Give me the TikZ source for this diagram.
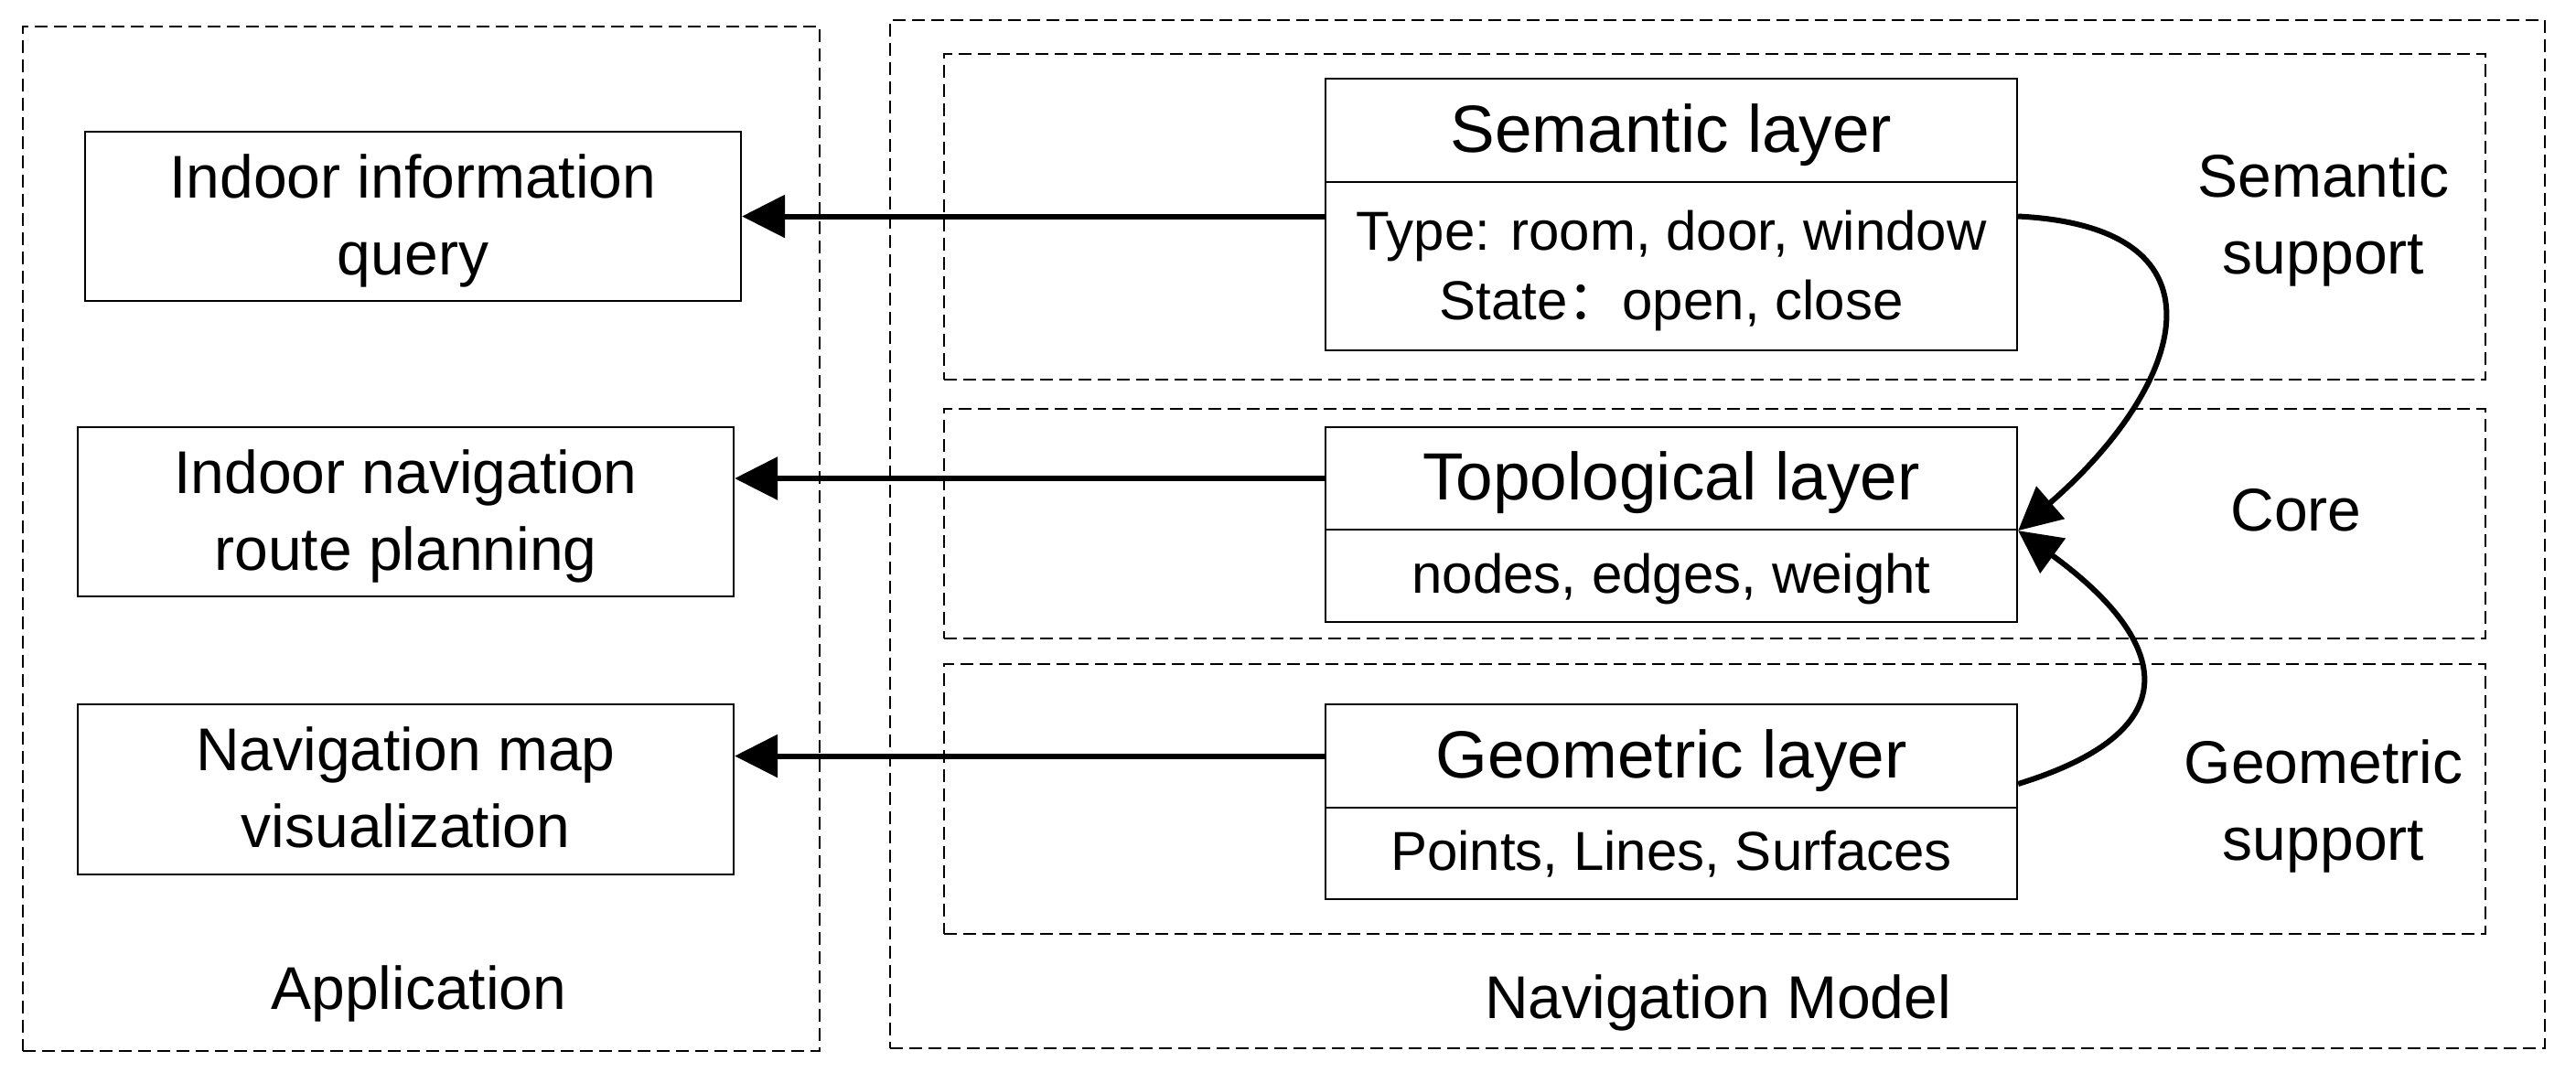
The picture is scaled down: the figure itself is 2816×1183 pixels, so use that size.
\documentclass[tikz,border=0pt]{standalone}
\usepackage{fontspec}
\setmainfont{Liberation Sans}
\newfontfamily\cjk{Noto Sans CJK SC}
\usetikzlibrary{arrows.meta,calc}
\newcommand\dn[2][1.2pt]{\raisebox{-#1}[\height][\depth]{\begin{tabular}{@{}c@{}}#2\end{tabular}}}
\begin{document}
\begin{tikzpicture}[x=0.25pt,y=-0.25pt,
  frame/.style={draw, dash pattern=on 3.5pt off 1.75pt, line width=0.5pt, inner sep=0pt},
  box/.style={draw, line width=0.55pt, inner sep=0pt, align=center},
  big/.style={font=\fontsize{16.5}{21}\selectfont, align=center},
  ttl/.style={font=\fontsize{18.25}{22}\selectfont},
  small/.style={font=\fontsize{15}{19}\selectfont},
  arr/.style={line width=1.5pt, -{Triangle[length=11.75pt,width=11.5pt]}}]
\useasboundingbox (0,0) rectangle (2816,1183);
% frames
\node[frame, minimum width=217.75pt, minimum height=280pt] (appF) at (460.5,589) {};
\node[frame, minimum width=452.25pt, minimum height=281pt] (navF) at (1877.5,584) {};
\node[frame, minimum width=421.25pt, minimum height=89pt] (semR) at (1874.5,237) {};
\node[frame, minimum width=421.25pt, minimum height=62.75pt] (coreR) at (1874.5,572.5) {};
\node[frame, minimum width=421.25pt, minimum height=73.75pt] (geoR) at (1874.5,873.5) {};
% application boxes
\node[box, big, minimum width=179.25pt, minimum height=46.25pt] (app1) at (451.5,236.5) {\dn{Indoor information\\query}};
\node[box, big, minimum width=179.25pt, minimum height=46.25pt] (app2) at (443.5,559.5) {\dn{Indoor navigation\\route planning}};
\node[box, big, minimum width=179.25pt, minimum height=46.5pt] (app3) at (443.5,863) {\dn{Navigation map\\visualization}};
% layer boxes
\node[box, ttl, minimum width=189pt, minimum height=28.25pt] (semT) at (1827,142.5) {\dn[1.6pt]{Semantic layer}};
\node[box, small, minimum width=189pt, minimum height=46pt] (semD) at (1827,291) {\dn{Type: room, door, window\\State{\cjk ：}open, close}};
\node[box, ttl, minimum width=189pt, minimum height=28pt] (topT) at (1827,523) {\dn[1.5pt]{Topological layer}};
\node[box, small, minimum width=189pt, minimum height=25.25pt] (topD) at (1827,629.5) {\dn[1pt]{nodes, edges, weight}};
\node[box, ttl, minimum width=189pt, minimum height=28.25pt] (geoT) at (1827,826.5) {\dn[1.5pt]{Geometric layer}};
\node[box, small, minimum width=189pt, minimum height=25pt] (geoD) at (1827,933) {\dn[0.8pt]{Points, Lines, Surfaces}};
% labels
\node[big] (lblSem) at (2540,236) {\dn[1.1pt]{Semantic\\support}};
\node[big] (lblCore) at (2510,558) {Core};
\node[big] (lblGeo) at (2540,877) {\dn[1.1pt]{Geometric\\support}};
\node[big] (lblApp) at (458,1085) {\dn[0.5pt]{Application}};
\node[big] (lblNav) at (1878,1095) {\dn[0.5pt]{Navigation Model}};
% connectors
\draw[arr] (semD.west |- app1.east) -- (app1.east);
\draw[arr] (topT.west) -- (topT.west -| app2.east);
\draw[arr] (geoT.west) -- (geoT.west -| app3.east);
\coordinate (s1) at (semD.east |- app1.east);
\draw[arr] (s1) .. controls ($(s1)+(240,12)$) and ($(topT.south east)+(181,-157)$) .. (topT.south east);
\coordinate (s2) at ($(geoT.east)+(0,30.5)$);
\draw[arr] (s2) .. controls ($(s2)+(217,-67)$) and ($(topT.south east)+(138,100)$) .. (topT.south east);
\end{tikzpicture}
\end{document}
